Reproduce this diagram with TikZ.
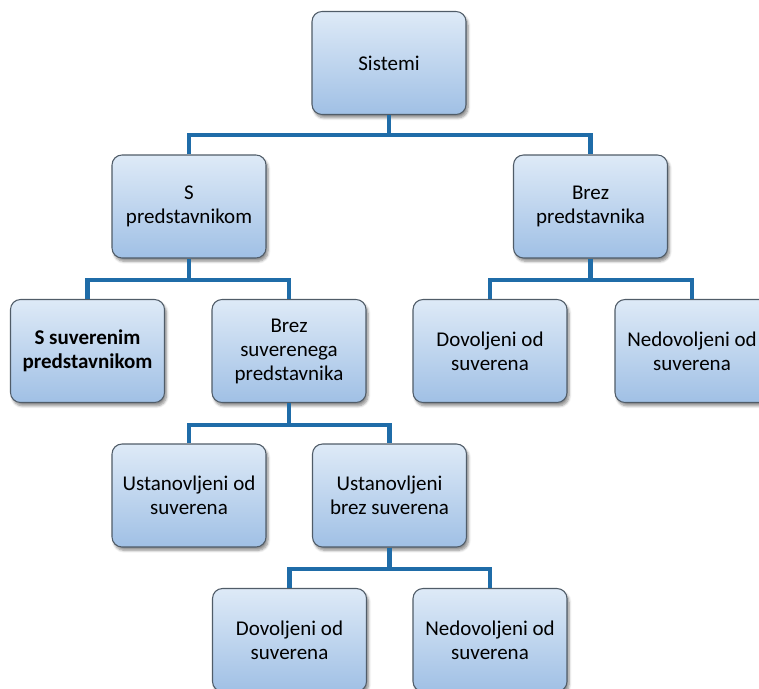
\documentclass[tikz,border=0pt]{standalone}
\usepackage{fontspec}
\setmainfont{Carlito}
\usetikzlibrary{shadows.blur}
\definecolor{linecol}{RGB}{31,108,168}
\definecolor{boxtop}{RGB}{222,234,247}
\definecolor{boxbot}{RGB}{160,192,229}
\definecolor{boxedge}{RGB}{80,92,104}
\tikzset{
  box/.style={rectangle, rounded corners=7.5pt, draw=boxedge, line width=0.8pt,
    top color=boxtop, bottom color=boxbot, minimum width=115.5pt, minimum height=77.25pt,
    inner sep=0pt, align=center, font=\fontsize{15.75}{18}\selectfont,
    blur shadow={shadow xshift=1.5pt, shadow yshift=-2.5pt, shadow blur steps=6, shadow opacity=45}},
  conn/.style={draw=linecol, line width=3.5pt}
}
\begin{document}
\begin{tikzpicture}[x=0.75pt,y=-0.75pt]
\useasboundingbox (0,0) rectangle (759,688);
\clip (0,0) rectangle (759,688);
\coordinate (b1) at (0,135);
\coordinate (b2) at (0,280);
\coordinate (b3) at (0,425);
\coordinate (b4) at (0,569);
\node[box] (sys) at (389,63) {Sistemi};
\node[box] (sp) at (189,206.5) {S\\predstavnikom};
\node[box] (bp) at (590.5,206.5) {Brez\\predstavnika};
\node[box] (ss) at (87.5,351) {\bfseries S suverenim\\\bfseries predstavnikom};
\node[box] (bs) at (289,351) {Brez\\suverenega\\predstavnika};
\node[box] (dov1) at (490,351) {Dovoljeni od\\suverena};
\node[box] (ned1) at (692,351) {Nedovoljeni od\\suverena};
\node[box] (us) at (189,495.5) {Ustanovljeni od\\suverena};
\node[box] (ub) at (389.5,495.5) {Ustanovljeni\\brez suverena};
\node[box] (dov2) at (289.5,640) {Dovoljeni od\\suverena};
\node[box] (ned2) at (490,640) {Nedovoljeni od\\suverena};
\draw[conn] (sys.south) -- (sys.south |- b1);
\draw[conn] (sp.north) -- (sp.north |- b1) -- (bp.north |- b1) -- (bp.north);
\draw[conn] (sp.south) -- (sp.south |- b2);
\draw[conn] (ss.north) -- (ss.north |- b2) -- (bs.north |- b2) -- (bs.north);
\draw[conn] (bp.south) -- (bp.south |- b2);
\draw[conn] (dov1.north) -- (dov1.north |- b2) -- (ned1.north |- b2) -- (ned1.north);
\draw[conn] (bs.south) -- (bs.south |- b3);
\draw[conn] (us.north) -- (us.north |- b3) -- (ub.north |- b3) -- (ub.north);
\draw[conn] (ub.south) -- (ub.south |- b4);
\draw[conn] (dov2.north) -- (dov2.north |- b4) -- (ned2.north |- b4) -- (ned2.north);
\end{tikzpicture}
\end{document}
